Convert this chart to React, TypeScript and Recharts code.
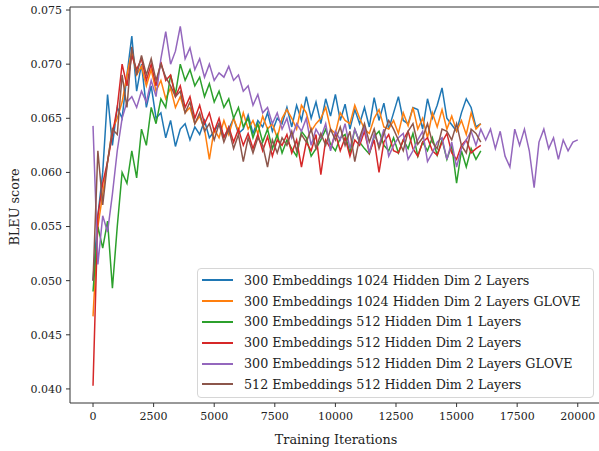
import { LineChart, Line, XAxis, YAxis, Legend, ReferenceLine, Label } from 'recharts';

// sampled every 200 training iterations
const STEP = 200;

const blue = [
  0.0500, 0.0560, 0.0600, 0.0672, 0.0625, 0.0660, 0.0650, 0.0690, 0.0726, 0.0675,
  0.0700, 0.0660, 0.0680, 0.0650, 0.0655, 0.0632, 0.0648, 0.0624, 0.0640, 0.0645,
  0.0630, 0.0642, 0.0635, 0.0648, 0.0632, 0.0638, 0.0645, 0.0633, 0.0640, 0.0650,
  0.0636, 0.0640, 0.0653, 0.0636, 0.0648, 0.0642, 0.0655, 0.0638, 0.0650, 0.0645,
  0.0660, 0.0642, 0.0662, 0.0648, 0.0670, 0.0650, 0.0665, 0.0645, 0.0668, 0.0652,
  0.0672, 0.0648, 0.0663, 0.0640, 0.0658, 0.0645, 0.0660, 0.0642, 0.0669, 0.0648,
  0.0664, 0.0640, 0.0655, 0.0670, 0.0648, 0.0645, 0.0660, 0.0658, 0.0640, 0.0668,
  0.0650, 0.0662, 0.0678, 0.0650, 0.0644, 0.0638, 0.0655, 0.0668, 0.0660, 0.0642,
  0.0645,
];

const orange = [
  0.0467, 0.0550, 0.0580, 0.0610, 0.0640, 0.0650, 0.0665, 0.0690, 0.0712, 0.0690,
  0.0698, 0.0680, 0.0695, 0.0675, 0.0685, 0.0668, 0.0678, 0.0660, 0.0670, 0.0655,
  0.0660, 0.0645, 0.0652, 0.0640, 0.0612, 0.0640, 0.0632, 0.0648, 0.0635, 0.0650,
  0.0638, 0.0655, 0.0640, 0.0648, 0.0636, 0.0652, 0.0640, 0.0645, 0.0632, 0.0650,
  0.0658, 0.0650, 0.0640, 0.0662, 0.0655, 0.0638, 0.0645, 0.0650, 0.0660, 0.0640,
  0.0636, 0.0655, 0.0648, 0.0645, 0.0662, 0.0650, 0.0640, 0.0636, 0.0650, 0.0658,
  0.0642, 0.0640, 0.0648, 0.0636, 0.0655, 0.0643, 0.0660, 0.0640, 0.0650, 0.0632,
  0.0655, 0.0642, 0.0658, 0.0640, 0.0652, 0.0638, 0.0648, 0.0635, 0.0655, 0.0640,
  0.0645,
];

const green = [
  0.0490, 0.0550, 0.0530, 0.0555, 0.0493, 0.0550, 0.0600, 0.0590, 0.0620, 0.0595,
  0.0640, 0.0625, 0.0660, 0.0645, 0.0668, 0.0660, 0.0690, 0.0672, 0.0700, 0.0685,
  0.0695, 0.0680, 0.0688, 0.0670, 0.0682, 0.0665, 0.0675, 0.0660, 0.0668, 0.0650,
  0.0660, 0.0642, 0.0650, 0.0632, 0.0645, 0.0628, 0.0640, 0.0622, 0.0635, 0.0618,
  0.0630, 0.0622, 0.0615, 0.0638, 0.0632, 0.0615, 0.0622, 0.0630, 0.0640, 0.0626,
  0.0620, 0.0632, 0.0635, 0.0618, 0.0640, 0.0628, 0.0622, 0.0617, 0.0633, 0.0638,
  0.0625, 0.0620, 0.0632, 0.0618, 0.0630, 0.0622, 0.0636, 0.0615, 0.0628, 0.0620,
  0.0632, 0.0616, 0.0630, 0.0612, 0.0625, 0.0590, 0.0620, 0.0605, 0.0622, 0.0612,
  0.0620,
];

const red = [
  0.0403, 0.0560, 0.0590, 0.0610, 0.0635, 0.0660, 0.0700, 0.0680, 0.0708, 0.0695,
  0.0705, 0.0685, 0.0700, 0.0680, 0.0702, 0.0685, 0.0690, 0.0670, 0.0680, 0.0660,
  0.0670, 0.0650, 0.0662, 0.0645, 0.0655, 0.0638, 0.0650, 0.0632, 0.0642, 0.0628,
  0.0640, 0.0625, 0.0636, 0.0622, 0.0635, 0.0620, 0.0633, 0.0615, 0.0630, 0.0625,
  0.0635, 0.0618, 0.0630, 0.0605, 0.0628, 0.0620, 0.0635, 0.0598, 0.0630, 0.0622,
  0.0636, 0.0620, 0.0632, 0.0615, 0.0630, 0.0625, 0.0638, 0.0618, 0.0630, 0.0600,
  0.0628, 0.0635, 0.0620, 0.0618, 0.0630, 0.0638, 0.0622, 0.0615, 0.0628, 0.0632,
  0.0620, 0.0616, 0.0628, 0.0636, 0.0618, 0.0612, 0.0625, 0.0630, 0.0618, 0.0622,
  0.0625,
];

const purple = [
  0.0643, 0.0515, 0.0560, 0.0545, 0.0580, 0.0620, 0.0650, 0.0665, 0.0670, 0.0660,
  0.0675, 0.0665, 0.0685, 0.0670, 0.0705, 0.0730, 0.0700, 0.0712, 0.0735, 0.0705,
  0.0715, 0.0695, 0.0705, 0.0688, 0.0700, 0.0685, 0.0692, 0.0688, 0.0698, 0.0685,
  0.0690, 0.0675, 0.0680, 0.0662, 0.0672, 0.0655, 0.0660, 0.0645, 0.0655, 0.0640,
  0.0650, 0.0632, 0.0645, 0.0638, 0.0650, 0.0625, 0.0640, 0.0632, 0.0645, 0.0620,
  0.0638, 0.0630, 0.0645, 0.0622, 0.0640, 0.0628, 0.0642, 0.0618, 0.0635, 0.0625,
  0.0640, 0.0615, 0.0625, 0.0632, 0.0636, 0.0612, 0.0620, 0.0630, 0.0638, 0.0610,
  0.0618, 0.0628, 0.0632, 0.0612, 0.0628, 0.0605, 0.0622, 0.0630, 0.0638, 0.0625,
  0.0640, 0.0630, 0.0640, 0.0622, 0.0638, 0.0615, 0.0605, 0.0640, 0.0625, 0.0640,
  0.0620, 0.0586, 0.0628, 0.0640, 0.0622, 0.0632, 0.0612, 0.0630, 0.0620, 0.0628,
  0.0630,
];

const brown = [
  0.0500, 0.0620, 0.0570, 0.0610, 0.0640, 0.0635, 0.0690, 0.0660, 0.0716, 0.0690,
  0.0708, 0.0690, 0.0705, 0.0685, 0.0700, 0.0688, 0.0680, 0.0670, 0.0675, 0.0655,
  0.0665, 0.0645, 0.0655, 0.0638, 0.0645, 0.0630, 0.0645, 0.0628, 0.0640, 0.0622,
  0.0635, 0.0610, 0.0632, 0.0618, 0.0632, 0.0625, 0.0605, 0.0630, 0.0618, 0.0632,
  0.0625, 0.0638, 0.0620, 0.0635, 0.0628, 0.0640, 0.0622, 0.0636, 0.0625, 0.0640,
  0.0630, 0.0642, 0.0625, 0.0638, 0.0610, 0.0632, 0.0645, 0.0628, 0.0640, 0.0622,
  0.0636, 0.0648, 0.0640, 0.0630, 0.0620, 0.0638, 0.0645, 0.0626, 0.0632, 0.0645,
  0.0628, 0.0622, 0.0640, 0.0638, 0.0630, 0.0645, 0.0625, 0.0618, 0.0640, 0.0636,
  0.0628,
];

const seriesNames = [
  '300 Embeddings 1024 Hidden Dim 2 Layers',
  '300 Embeddings 1024 Hidden Dim 2 Layers GLOVE',
  '300 Embeddings 512 Hidden Dim 1 Layers',
  '300 Embeddings 512 Hidden Dim 2 Layers',
  '300 Embeddings 512 Hidden Dim 2 Layers GLOVE',
  '512 Embeddings 512 Hidden Dim 2 Layers',
];

const xTicks = [0, 2500, 5000, 7500, 10000, 12500, 15000, 17500, 20000];
const yTicks = [0.04, 0.045, 0.05, 0.055, 0.06, 0.065, 0.07, 0.075];

const colors = ['#1f77b4', '#ff7f0e', '#2ca02c', '#d62728', '#9467bd', '#8c564b'];
const keys = ['s0', 's1', 's2', 's3', 's4', 's5'];
const allSeries = [blue, orange, green, red, purple, brown];

const Y_MIN = 0.0387;
const Y_MAX = 0.07528;
const FONT = '"DejaVu Serif", serif';

const data = purple.map((_, i) => {
  const row: Record<string, number | undefined> = { it: i * STEP };
  allSeries.forEach((s, k) => {
    row[keys[k]] = s[i];
  });
  return row;
});

const renderLegend = () => (
  <div
    style={{
      width: 395,
      height: 127,
      border: '1px solid #d6d6d6',
      borderRadius: 4,
      background: 'rgba(255,255,255,0.8)',
      padding: '1px 0 0 0',
      fontFamily: FONT,
      fontSize: 12.7,
      color: '#222',
      boxSizing: 'content-box',
    }}
  >
    {seriesNames.map((name, i) => (
      <div
        key={name}
        style={{ height: 20.8, display: 'flex', alignItems: 'center', whiteSpace: 'nowrap' }}
      >
        <span
          style={{
            display: 'inline-block',
            width: 31,
            height: 2,
            marginLeft: 4,
            marginRight: 11,
            background: colors[i],
          }}
        />
        {name}
      </div>
    ))}
  </div>
);

export default function App() {
  return (
    <div style={{ position: 'absolute', left: 0, top: 0, width: 599, height: 451, overflow: 'hidden', background: '#fff' }}>
      <LineChart
        width={610}
        height={451}
        data={data}
        margin={{ top: 7, right: 8, left: 0, bottom: 0 }}
      >
        <XAxis
          dataKey='it'
          type='number'
          domain={[-950, 21000]}
          ticks={xTicks}
          allowDataOverflow
          height={48}
          tickSize={4}
          tickMargin={5}
          stroke='#333'
          tick={{ fill: '#222', fontFamily: FONT, fontSize: 11 }}
        >
          <Label
            content={() => (
              <text x={336} y={444} textAnchor='middle' fontFamily={FONT} fontSize={12.8} fill='#222'>
                Training Iterations
              </text>
            )}
          />
        </XAxis>
        <YAxis
          type='number'
          domain={[Y_MIN, Y_MAX]}
          ticks={yTicks}
          allowDataOverflow
          width={70}
          tickSize={4}
          tickMargin={4}
          stroke='#333'
          tickFormatter={(v: number) => v.toFixed(3)}
          tick={{ fill: '#222', fontFamily: FONT, fontSize: 11 }}
        >
          <Label
            content={() => (
              <text
                x={19}
                y={207}
                textAnchor='middle'
                fontFamily={FONT}
                fontSize={12.8}
                fill='#222'
                transform='rotate(-90 19 207)'
              >
                BLEU score
              </text>
            )}
          />
        </YAxis>
        <ReferenceLine y={Y_MAX} stroke='#333' strokeWidth={1} />
        {keys.map((k, i) => (
          <Line
            key={k}
            dataKey={k}
            name={seriesNames[i]}
            type='linear'
            stroke={colors[i]}
            strokeWidth={1.5}
            dot={false}
            isAnimationActive={false}
          />
        ))}
        <Legend
          layout='vertical'
          align='center'
          verticalAlign='middle'
          content={renderLegend}
          wrapperStyle={{ left: 197, top: 268, width: 397, height: 129 }}
        />
      </LineChart>
    </div>
  );
}
